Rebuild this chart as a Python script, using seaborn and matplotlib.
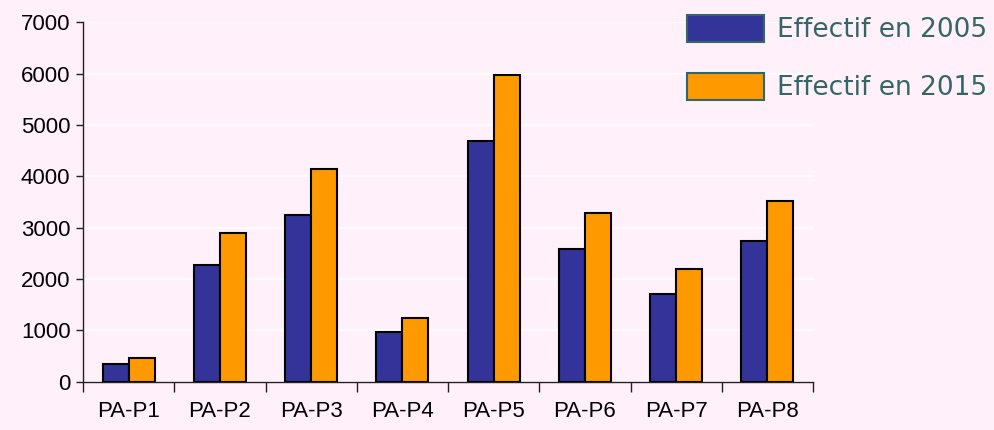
import pandas as pd
import matplotlib.pyplot as plt
import seaborn as sns
import numpy as np

# Données
categories = ['PA-P1', 'PA-P2', 'PA-P3', 'PA-P4', 'PA-P5', 'PA-P6', 'PA-P7', 'PA-P8']
effectif_2005 = [350, 2270, 3250, 970, 4690, 2580, 1720, 2740]
effectif_2015 = [470, 2890, 4140, 1250, 5980, 3290, 2190, 3520]
series = ['Effectif en 2005', 'Effectif en 2015']

df = pd.DataFrame({
    'categorie': categories * 2,
    'effectif': effectif_2005 + effectif_2015,
    'serie': [series[0]] * len(categories) + [series[1]] * len(categories),
})

bg = '#FFF0FA'
sns.set_style('white')
plt.rcParams['font.family'] = ['Liberation Sans', 'DejaVu Sans']

fig = plt.figure(figsize=(9.94, 4.30), dpi=100, facecolor=bg)
ax = fig.add_axes([0.0835, 0.112, 0.7345, 0.836], facecolor=bg)

# Lignes de grille blanches derrière les barres
ax.set_axisbelow(True)
ax.yaxis.grid(True, color='white', linewidth=1.2)

sns.barplot(data=df, x='categorie', y='effectif', hue='serie', ax=ax,
            palette=['#333399', '#FF9900'], width=0.57, saturation=1,
            edgecolor='black', linewidth=1.5, legend=True)

ax.set_ylim(0, 7000)
ax.set_xlim(-0.5, len(categories) - 0.5)
ax.set_yticks(np.arange(0, 7001, 1000))
ax.set_xlabel('')
ax.set_ylabel('')

for s in ['top', 'right']:
    ax.spines[s].set_visible(False)
for s in ['left', 'bottom']:
    ax.spines[s].set_color('#222222')
    ax.spines[s].set_linewidth(1.0)

ax.tick_params(axis='y', which='major', left=True, direction='out', length=5,
               width=1, color='#222222', labelsize=16, labelcolor='black', pad=4)
ax.tick_params(axis='x', which='major', bottom=True, length=0, labelsize=16,
               labelcolor='black', pad=14)
ax.set_xticks(np.arange(-0.5, len(categories)), minor=True)
ax.tick_params(axis='x', which='minor', bottom=True, direction='out', length=7,
               width=1, color='#222222')

# Légende en haut à droite
handles, labels = ax.get_legend_handles_labels()
ax.get_legend().remove()
for h in handles:
    h.set_edgecolor('#336666')
    h.set_linewidth(1.5)
leg = fig.legend(handles, labels, loc='upper right',
                 bbox_to_anchor=(1 - 3 / 994, 1 - 11 / 430),
                 frameon=False, handlelength=2.9, handleheight=1.2,
                 labelspacing=1.12, handletextpad=0.5, borderaxespad=0,
                 borderpad=0.15, prop={'family': 'DejaVu Sans', 'size': 19})
for t in leg.get_texts():
    t.set_color('#336666')

plt.savefig('out.png', dpi=100, facecolor=bg)
